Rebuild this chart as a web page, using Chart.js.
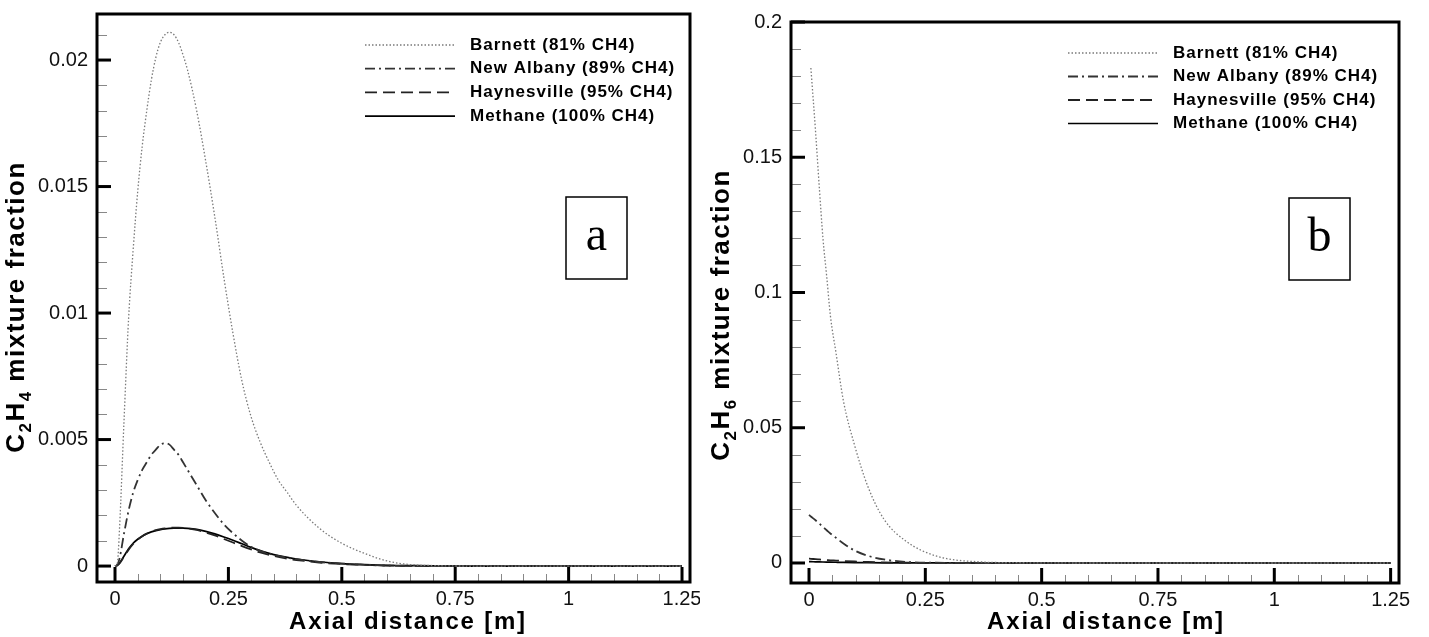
<!DOCTYPE html>
<html>
<head>
<meta charset="utf-8">
<script src="https://cdn.jsdelivr.net/npm/chart.js@4"></script>
<style>
  html, body { margin: 0; padding: 0; background: #fff; }
  #wrap { position: relative; width: 1429px; height: 637px; overflow: hidden; }
  canvas { position: absolute; top: 0; }
  #chart-a { left: 0; }
  #chart-b { left: 700px; }
</style>
</head>
<body>
<div id="wrap">
  <canvas id="chart-a" width="700" height="637"></canvas>
  <canvas id="chart-b" width="729" height="637"></canvas>
</div>
<script>
// Series names
const seriesNames = ['Barnett (81% CH4)', 'New Albany (89% CH4)', 'Haynesville (95% CH4)', 'Methane (100% CH4)'];

// Panel a: C2H4 along the axis
const xA = [0, 0.005, 0.01, 0.02, 0.03, 0.04, 0.05, 0.06, 0.07, 0.08, 0.09, 0.10, 0.11, 0.12, 0.13, 0.14, 0.15, 0.16, 0.18, 0.20,
            0.22, 0.24, 0.26, 0.28, 0.30, 0.32, 0.34, 0.36, 0.38, 0.40, 0.45, 0.50, 0.55, 0.60, 0.65, 0.70, 0.80, 1.00, 1.25];
const barnettA = [0, 0.0001, 0.0015, 0.0058, 0.0098, 0.0125, 0.0148, 0.0166, 0.0180, 0.0192, 0.0201, 0.0207, 0.0210, 0.0211, 0.0210, 0.0207, 0.0202, 0.0196, 0.0180, 0.0160,
                  0.0138, 0.0114, 0.0092, 0.0073, 0.0059, 0.0049, 0.0041, 0.0034, 0.0029, 0.0024, 0.0015, 0.0009, 0.0005, 0.0002, 0.00006, 0.00002, 0, 0, 0];
const newAlbanyA = [0, 0.00005, 0.0003, 0.0013, 0.0022, 0.0029, 0.0034, 0.0038, 0.0041, 0.0044, 0.0046, 0.0048, 0.00485, 0.0048, 0.0046, 0.0044, 0.0041, 0.0038, 0.0032, 0.0026,
                    0.0021, 0.00165, 0.0013, 0.001, 0.00076, 0.0006, 0.00049, 0.0004, 0.00033, 0.00027, 0.00016, 0.0001, 0.00005, 0.00002, 0, 0, 0, 0, 0];
const haynesvilleA = [0, 0.00002, 0.0001, 0.00037, 0.00065, 0.00088, 0.00105, 0.00118, 0.00128, 0.00136, 0.00142, 0.00146, 0.00149, 0.00151, 0.00152, 0.00152, 0.00151, 0.00149, 0.00143, 0.00133,
                      0.00121, 0.00107, 0.00093, 0.00079, 0.00066, 0.00054, 0.00044, 0.00036, 0.00029, 0.00024, 0.00014, 0.00008, 0.00005, 0.00002, 0.00001, 0, 0, 0, 0];
const methaneA = [0, 0.00003, 0.00012, 0.0004, 0.00068, 0.0009, 0.00106, 0.00118, 0.00128, 0.00135, 0.0014, 0.00144, 0.00147, 0.00149, 0.0015, 0.0015, 0.0015, 0.00149, 0.00145, 0.00137,
                  0.00127, 0.00115, 0.00102, 0.00088, 0.00074, 0.00061, 0.0005, 0.00041, 0.00034, 0.00028, 0.00017, 0.0001, 0.00006, 0.00003, 0.00002, 0.00001, 0, 0, 0];

// Panel b: C2H6 along the axis
const xB = [0, 0.004, 0.014, 0.022, 0.030, 0.038, 0.046, 0.058, 0.074, 0.098, 0.126, 0.161, 0.209, 0.273, 0.368, 0.45, 0.6, 0.8, 1.0, 1.25];
const barnettB = [null, 0.183, 0.1597, 0.1392, 0.120, 0.106, 0.0914, 0.0777, 0.0599, 0.0435, 0.0285, 0.0162, 0.008, 0.0026, 0.0004, 0.0001, 0, 0, 0, 0];
const newAlbanyB = [0.0178, 0.0172, 0.0158, 0.0146, 0.0133, 0.0121, 0.0109, 0.0093, 0.0072, 0.0046, 0.0027, 0.0013, 0.0004, 0.0001, 0, 0, 0, 0, 0, 0];
const haynesvilleB = [0.0016, 0.00155, 0.0014, 0.0013, 0.0012, 0.0011, 0.001, 0.0009, 0.00075, 0.00055, 0.00038, 0.00022, 0.0001, 0.00003, 0, 0, 0, 0, 0, 0];
const methaneB = [0.0005, 0.00048, 0.00044, 0.0004, 0.00037, 0.00034, 0.00031, 0.00027, 0.00022, 0.00016, 0.0001, 0.00006, 0.00003, 0.00001, 0, 0, 0, 0, 0, 0];

// Tick values and labels
const xTicks = [0, 0.25, 0.5, 0.75, 1, 1.25];
const xTickLabels = ['0', '0.25', '0.5', '0.75', '1', '1.25'];
const yTicksA = [0, 0.005, 0.01, 0.015, 0.02];
const yTickLabelsA = ['0', '0.005', '0.01', '0.015', '0.02'];
const yTicksB = [0, 0.05, 0.1, 0.15, 0.2];
const yTickLabelsB = ['0', '0.05', '0.1', '0.15', '0.2'];

// line styles for the four gases
const lineStyles = [
  { color: '#7a7a7a', width: 1.3, dash: [1.5, 2] },
  { color: '#333333', width: 1.8, dash: [10, 4, 2, 4] },
  { color: '#222222', width: 1.8, dash: [12, 6] },
  { color: '#000000', width: 1.7, dash: [] }
];

function makeDatasets(xs, seriesList) {
  return seriesList.map((vals, i) => ({
    label: seriesNames[i],
    data: xs.map((x, k) => ({ x: x, y: vals[k] })),
    borderColor: lineStyles[i].color,
    borderWidth: lineStyles[i].width,
    borderDash: lineStyles[i].dash,
    pointRadius: 0,
    fill: false,
    cubicInterpolationMode: 'monotone'
  }));
}

const FONT = '"Liberation Sans", Arial, sans-serif';

function minorValues(lo, hi, step, majors) {
  const out = [];
  const n = Math.round((hi - lo) / step);
  for (let i = 0; i <= n; i++) {
    const v = +(lo + i * step).toFixed(6);
    if (!majors.some(m => Math.abs(m - v) < step / 10)) out.push(v);
  }
  return out;
}

// frame, inward ticks, labels, legend and the panel tag
const panelDecor = {
  id: 'panelDecor',
  afterDatasetsDraw(chart, args, o) {
    const { ctx, chartArea: a } = chart;
    const xs = chart.scales.x, ys = chart.scales.y;
    ctx.save();

    // minor ticks
    ctx.strokeStyle = '#888';
    ctx.lineWidth = 1;
    ctx.setLineDash([]);
    minorValues(0, 1.25, 0.05, xTicks).forEach(v => {
      const px = Math.round(xs.getPixelForValue(v)) + 0.5;
      ctx.beginPath(); ctx.moveTo(px, a.bottom); ctx.lineTo(px, a.bottom - 8); ctx.stroke();
    });
    minorValues(0, o.yMinorTop, o.yMinorStep, o.yTicks).forEach(v => {
      const py = Math.round(ys.getPixelForValue(v)) + 0.5;
      if (py < a.top + 2) return;
      ctx.beginPath(); ctx.moveTo(a.left, py); ctx.lineTo(a.left + 10, py); ctx.stroke();
    });

    // major ticks
    ctx.strokeStyle = '#000';
    ctx.lineWidth = 3;
    xTicks.forEach(v => {
      const px = xs.getPixelForValue(v);
      ctx.beginPath(); ctx.moveTo(px, a.bottom); ctx.lineTo(px, a.bottom - 15); ctx.stroke();
    });
    o.yTicks.forEach(v => {
      const py = ys.getPixelForValue(v);
      ctx.beginPath(); ctx.moveTo(a.left, py); ctx.lineTo(a.left + 14, py); ctx.stroke();
    });

    // frame
    ctx.lineWidth = 3;
    ctx.strokeRect(a.left, a.top, a.right - a.left, a.bottom - a.top);

    // tick labels
    ctx.fillStyle = '#111';
    ctx.font = '20px ' + FONT;
    ctx.letterSpacing = '0px';
    ctx.textAlign = 'center';
    ctx.textBaseline = 'middle';
    xTicks.forEach((v, i) => ctx.fillText(xTickLabels[i], xs.getPixelForValue(v), a.bottom + 17));
    ctx.textAlign = 'right';
    o.yTicks.forEach((v, i) => ctx.fillText(o.yLabels[i], a.left - 9, ys.getPixelForValue(v)));

    // x axis title
    ctx.font = 'bold 24px ' + FONT;
    ctx.letterSpacing = '1.8px';
    ctx.textAlign = 'center';
    ctx.textBaseline = 'alphabetic';
    ctx.fillStyle = '#000';
    ctx.fillText('Axial distance [m]', o.xTitleX, 629);

    // y axis title with subscripts, rotated
    ctx.save();
    ctx.translate(o.yTitleX, o.yTitleY);
    ctx.rotate(-Math.PI / 2);
    ctx.letterSpacing = '1.5px';
    const big = 'bold 26px ' + FONT, small = 'bold 17px ' + FONT;
    let total = 0;
    o.yTitle.forEach(p => { ctx.font = p.sub ? small : big; total += ctx.measureText(p.t).width; });
    let tx = -total / 2;
    ctx.textAlign = 'left';
    o.yTitle.forEach(p => {
      ctx.font = p.sub ? small : big;
      ctx.fillText(p.t, tx, p.sub ? 15 : 8);
      tx += ctx.measureText(p.t).width;
    });
    ctx.restore();

    // legend
    ctx.font = 'bold 17px ' + FONT;
    ctx.letterSpacing = '1px';
    ctx.textBaseline = 'middle';
    ctx.textAlign = 'left';
    chart.data.datasets.forEach((ds, i) => {
      const ly = o.legendY + i * o.legendStep;
      ctx.strokeStyle = ds.borderColor;
      ctx.lineWidth = ds.borderWidth;
      ctx.setLineDash(ds.borderDash);
      ctx.beginPath(); ctx.moveTo(o.legendX, ly); ctx.lineTo(o.legendX + 90, ly); ctx.stroke();
      ctx.fillStyle = '#000';
      ctx.fillText(ds.label, o.legendX + 105, ly);
    });
    ctx.setLineDash([]);

    // panel tag
    ctx.strokeStyle = '#000';
    ctx.lineWidth = 1.5;
    ctx.strokeRect(o.tag.x, o.tag.y, 61, 82);
    ctx.font = '48px "Liberation Serif", "Times New Roman", serif';
    ctx.letterSpacing = '0px';
    ctx.textAlign = 'center';
    ctx.fillText(o.tag.text, o.tag.x + 30.5, o.tag.y + 40);

    ctx.restore();
  }
};

function buildChart(id, datasets, scaleX, scaleY, padding, decor) {
  return new Chart(document.getElementById(id), {
    type: 'line',
    data: { datasets: datasets },
    options: {
      responsive: false,
      animation: false,
      devicePixelRatio: 1,
      layout: { padding: padding },
      scales: {
        x: { type: 'linear', min: scaleX[0], max: scaleX[1], display: false },
        y: { type: 'linear', min: scaleY[0], max: scaleY[1], display: false }
      },
      plugins: {
        legend: { display: false },
        tooltip: { enabled: false },
        panelDecor: decor
      }
    },
    plugins: [panelDecor]
  });
}

buildChart('chart-a',
  makeDatasets(xA, [barnettA, newAlbanyA, haynesvilleA, methaneA]),
  [-0.0397, 1.2676], [-0.00063, 0.02182],
  { left: 97, top: 14, right: 10, bottom: 55 },
  {
    yTicks: yTicksA, yLabels: yTickLabelsA, yMinorStep: 0.001, yMinorTop: 0.021,
    xTitleX: 408, yTitleX: 16, yTitleY: 307,
    yTitle: [{ t: 'C' }, { t: '2', sub: true }, { t: 'H' }, { t: '4', sub: true }, { t: ' mixture fraction' }],
    legendX: 365, legendY: 45, legendStep: 23.7,
    tag: { text: 'a', x: 566, y: 197 }
  });

buildChart('chart-b',
  makeDatasets(xB, [barnettB, newAlbanyB, haynesvilleB, methaneB]),
  [-0.0387, 1.268], [-0.0074, 0.2],
  { left: 91, top: 22, right: 30, bottom: 54 },
  {
    yTicks: yTicksB, yLabels: yTickLabelsB, yMinorStep: 0.01, yMinorTop: 0.2,
    xTitleX: 406, yTitleX: 21, yTitleY: 315,
    yTitle: [{ t: 'C' }, { t: '2', sub: true }, { t: 'H' }, { t: '6', sub: true }, { t: ' mixture fraction' }],
    legendX: 368, legendY: 53, legendStep: 23.5,
    tag: { text: 'b', x: 589, y: 198 }
  });
</script>
</body>
</html>
